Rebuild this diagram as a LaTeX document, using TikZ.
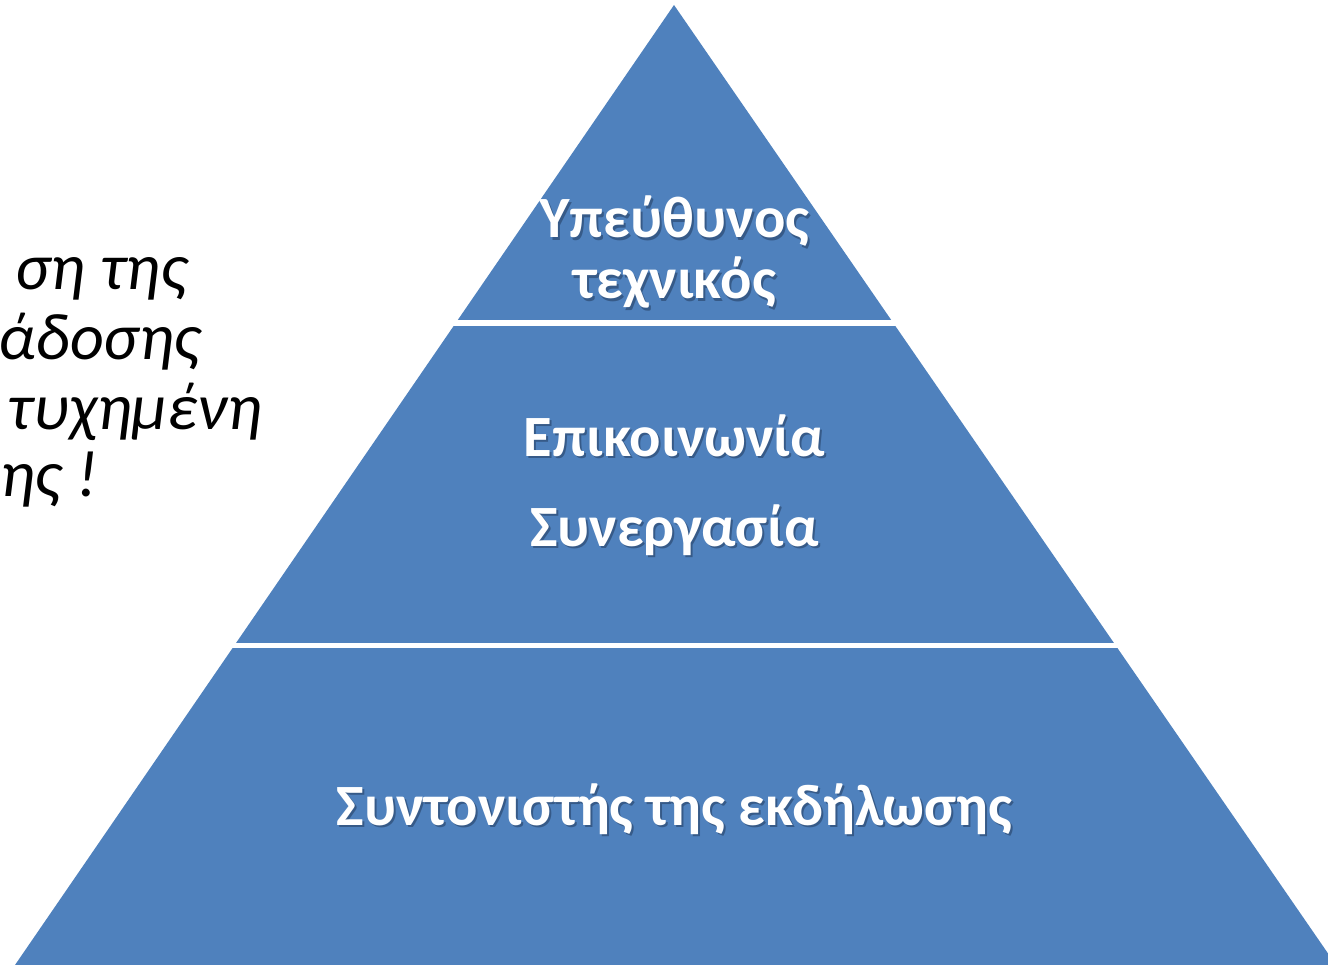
\documentclass[tikz,border=0pt]{standalone}
\usepackage{fontspec}
\setmainfont{Carlito}
\usetikzlibrary{positioning,calc}

\definecolor{pyrblue}{HTML}{4F81BD}
\definecolor{shadowgrey}{HTML}{1F3554}

\begin{document}
\begin{tikzpicture}[x=1pt,y=-1pt,
  lvltext/.style={text=white,font=\fontsize{58.5}{62}\selectfont\bfseries,align=center,inner sep=0pt},
  lvlshadow/.style={lvltext,text=shadowgrey,opacity=.5},
  sidetext/.style={font=\fontsize{66}{69}\selectfont\itshape,anchor=base east,inner sep=0pt}]

\useasboundingbox (0,0) rectangle (1328,965);

%%%%%%%%%%%%%%%%%%%%%% PYRAMID

\coordinate (Apex) at (674,5);
\coordinate (BL) at (15,965);
\coordinate (BR) at (1336,965);
\fill[pyrblue] (Apex) -- (BR) -- (BL) -- cycle;

% white cuts between the levels
\coordinate (C1L) at (400,323);
\coordinate (C1R) at (950,323);
\coordinate (C2L) at (150,645.5);
\coordinate (C2R) at (1200,645.5);
\draw[white,line width=5.5pt] (C1L) -- (C1R);
\draw[white,line width=5.5pt] (C2L) -- (C2R);

% level texts
\foreach \nm/\y/\txt in {Top1/238/{Υπεύθυνος},Top2/299/{τεχνικός},Mid1/456/{Επικοινωνία},Mid2/546/{Συνεργασία},Base/825/{Συντονιστής της εκδήλωσης}}{
  \node[lvlshadow,anchor=base] (\nm s) at (676.5,\y+2.5) {\txt};
  \node[lvltext,anchor=base] (\nm) at (674.5,\y) {\txt};
}

%%%%%%%%%%%%%%%%%%%%%% SIDE TEXT

\node[sidetext] (S1) at (188,290) {ση της};
\node[sidetext] (S2) at (201,360) {άδοσης};
\node[sidetext] (S3) at (262,429) {τυχημένη};
\node[sidetext,anchor=base west] (S4) at (0,496) {ης !};

\end{tikzpicture}
\end{document}
